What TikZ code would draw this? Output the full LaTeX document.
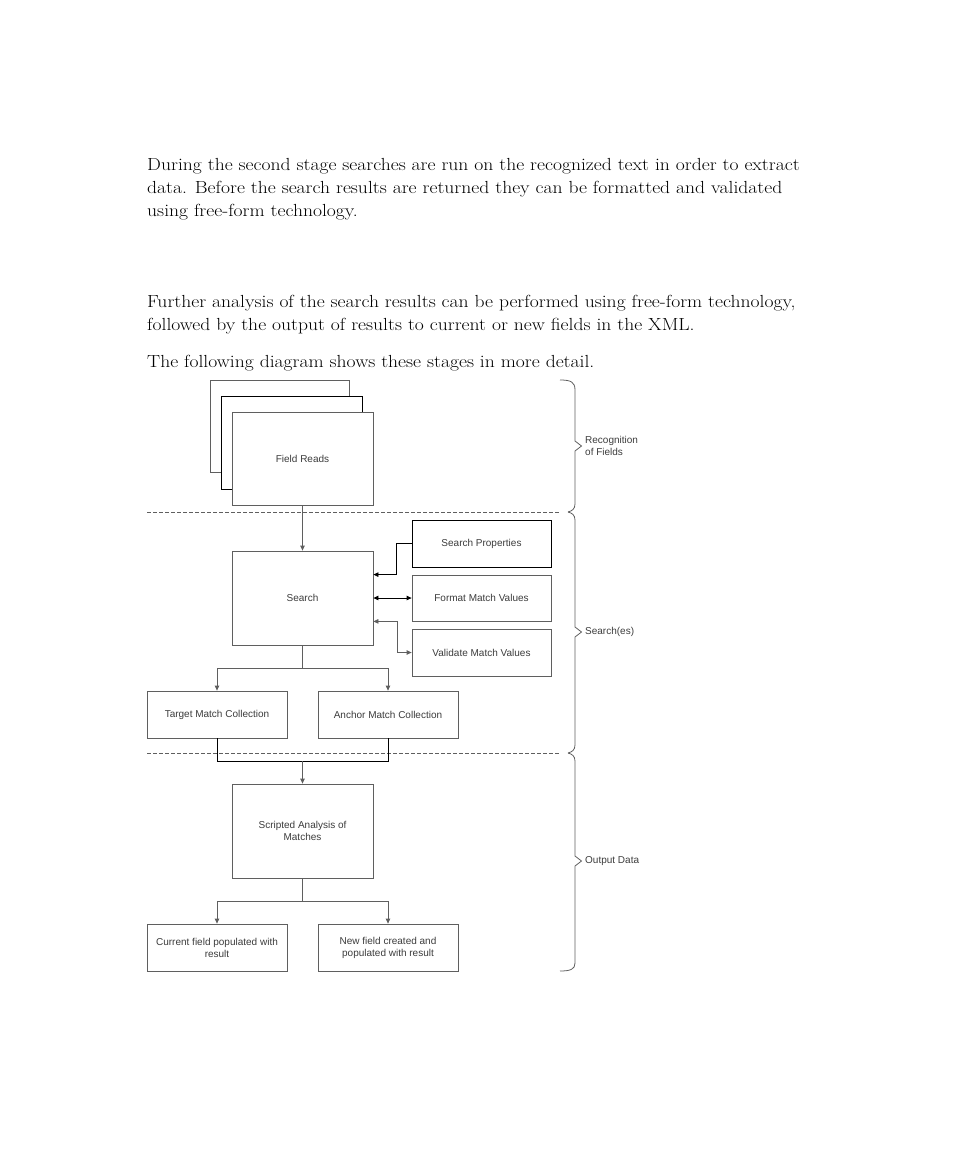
\documentclass[tikz,border=0pt]{standalone}
\usepackage{fontspec}
\newfontfamily\diagfont{Liberation Sans}
\newfontfamily\parafont{Latin Modern Roman}[FakeStretch=1.12]
\usetikzlibrary{arrows.meta,calc}
\definecolor{linegray}{RGB}{95,95,95}
\definecolor{txtgray}{RGB}{60,60,60}
\begin{document}
\begin{tikzpicture}[x=1pt,y=-1pt,
  para/.style={anchor=base west, inner sep=0pt, font=\parafont\fontsize{17.5}{20}\selectfont},
  box/.style={draw=linegray, line width=0.8pt, fill=white, inner sep=0pt,
    font=\diagfont\fontsize{10}{12}\selectfont, text=txtgray, align=center},
  bigbox/.style={box, minimum width=141pt, minimum height=94pt},
  sidebox/.style={box, minimum width=139pt, minimum height=47pt},
  outbox/.style={box, minimum width=140pt, minimum height=47pt},
  wire/.style={draw=linegray, line width=0.8pt},
  conn/.style={wire, -{Triangle[length=5pt,width=4.5pt]}},
  dconn/.style={wire, {Triangle[length=5pt,width=4.5pt]}-{Triangle[length=5pt,width=4.5pt]}},
  sep/.style={draw=linegray, line width=0.7pt, dash pattern=on 4pt off 2pt},
  brace/.style={draw=linegray, line width=0.8pt},
  lbl/.style={anchor=west, inner sep=0pt, font=\diagfont\fontsize{10}{12}\selectfont, text=txtgray, align=left}
]
\useasboundingbox (0,0) rectangle (954,1165);

% paragraphs
\node[para] (p1) at (147,170) {During the second stage searches are run on the recognized text in order to extract};
\node[para] (p2) at (147,193) {data. Before the search results are returned they can be formatted and validated};
\node[para] (p3) at (147,216) {using free-form technology.};
\node[para] (p4) at (147,307) {Further analysis of the search results can be performed using free-form technology,};
\node[para] (p5) at (147,330) {followed by the output of results to current or new fields in the XML.};
\node[para] (p6) at (147,367) {The following diagram shows these stages in more detail.};

% stacked field-read boxes
\draw[draw=linegray, line width=0.8pt, fill=white] (210,380) rectangle (349,472);
\draw[draw=black, line width=0.8pt, fill=white] (221,396) rectangle (362,489);
\node[bigbox, minimum height=93pt] (fr) at (302.5,458.5) {Field Reads};

% separators
\draw[sep] (147,512) -- (560,512);
\draw[sep] (147,753) -- (560,753);

% search stage
\node[bigbox] (search) at (302.5,598) {Search};
\node[sidebox, draw=black] (sp) at (481.5,543.5) {Search Properties};
\node[sidebox, minimum height=46pt] (fmv) at (481.5,598) {Format Match Values};
\node[sidebox] (vmv) at (481.5,652.5) {Validate Match Values};

\node[outbox] (tmc) at (217,714.5) {Target Match Collection};
\node[outbox] (amc) at (388,714.5) {Anchor Match Collection};

\node[bigbox] (scr) at (302.5,831) {Scripted Analysis of\\Matches};

\node[outbox] (cur) at (217,947.5) {Current field populated with\\result};
\node[outbox] (new) at (388,947.5) {New field created and\\populated with result};

% connectors
\draw[conn] (fr.south) -- (search.north);

\coordinate (s1) at ($(search.north east)+(0,24)$);
\coordinate (s3) at ($(search.south east)+(0,-24)$);
\draw[conn, draw=black] (sp.west) -- ++(-15,0) |- (s1);
\draw[dconn, draw=black] (search.east) -- (fmv.west);
\draw[dconn] (s3) -- ++(24,0) |- (vmv.west);

\coordinate (b1) at ($(search.south)+(0,23)$);
\draw[wire] (search.south) -- (b1);
\draw[conn] (b1) -| (tmc.north);
\draw[conn] (b1) -| (amc.north);

\coordinate (m1) at ($(tmc.south)+(0,23)$);
\coordinate (m2) at ($(amc.south)+(0,23)$);
\draw[wire, draw=black] (tmc.south) -- (m1) -- (m2) -- (amc.south);
\draw[conn] (scr.north |- m1) -- (scr.north);

\coordinate (b2) at ($(scr.south)+(0,23)$);
\draw[wire] (scr.south) -- (b2);
\draw[conn] (b2) -| (cur.north);
\draw[conn] (b2) -| (new.north);

% braces
\draw[brace] (560,380) .. controls (571,380) and (575,382) .. (575,390)
  -- (575,441) -- (581.5,446) -- (575,451) -- (575,504)
  .. controls (575,509) and (572,511) .. (568,512);
\draw[brace] (568,512) .. controls (572,513) and (575,515) .. (575,520)
  -- (575,627) -- (581.5,632) -- (575,637) -- (575,745)
  .. controls (575,750) and (572,752) .. (568,753);
\draw[brace] (568,753) .. controls (572,754) and (575,756) .. (575,761)
  -- (575,856) -- (581.5,861) -- (575,866) -- (575,963)
  .. controls (575,969) and (571,971) .. (560,971);

\node[lbl] (l1) at (585,446) {Recognition\\of Fields};
\node[lbl] (l2) at (585,632) {Search(es)};
\node[lbl] (l3) at (585,861) {Output Data};
\end{tikzpicture}
\end{document}
